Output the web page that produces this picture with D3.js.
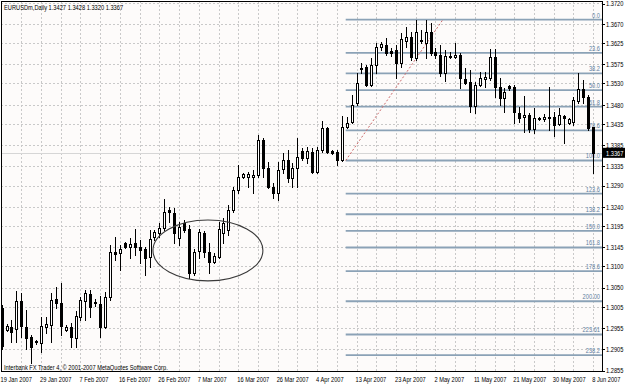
<!DOCTYPE html>
<html><head><meta charset="utf-8">
<script src="https://cdn.jsdelivr.net/npm/d3@7"></script>
<style>html,body{margin:0;padding:0;background:#fff;}svg{display:block;}text{font-family:"Liberation Sans",Arial,sans-serif;}</style>
</head><body><svg id="c" width="625" height="384"></svg>
<script>
const openP = [1.3002,1.2950,1.2957,1.2953,1.3019,1.2957,1.2934,1.2922,1.2920,1.2957,1.2962,1.3023,1.3014,1.2950,1.2957,1.2932,1.2981,1.3019,1.3035,1.3016,1.3012,1.2957,1.3028,1.3134,1.3131,1.3155,1.3146,1.3155,1.3146,1.3141,1.3122,1.3169,1.3178,1.3190,1.3233,1.3226,1.3167,1.3202,1.3188,1.3084,1.3136,1.3178,1.3134,1.3110,1.3122,1.3178,1.3186,1.3233,1.3280,1.3310,1.3310,1.3310,1.3315,1.3397,1.3331,1.3287,1.3273,1.3329,1.3350,1.3308,1.3331,1.3371,1.3355,1.3369,1.3322,1.3374,1.3425,1.3371,1.3369,1.3350,1.3428,1.3440,1.3484,1.3566,1.3569,1.3526,1.3573,1.3616,1.3621,1.3606,1.3609,1.3578,1.3630,1.3639,1.3590,1.3632,1.3625,1.3651,1.3604,1.3597,1.3555,1.3595,1.3592,1.3597,1.3541,1.3534,1.3477,1.3526,1.3541,1.3543,1.3592,1.3522,1.3496,1.3524,1.3522,1.3461,1.3451,1.3456,1.3423,1.3447,1.3447,1.3451,1.3451,1.3435,1.3454,1.3437,1.3440,1.3489,1.3517,1.3498,1.3427];
const highP = [1.3009,1.2965,1.2974,1.3042,1.3037,1.2997,1.2939,1.2927,1.2981,1.2981,1.3037,1.3052,1.3061,1.2962,1.2967,1.2995,1.3028,1.3045,1.3045,1.3023,1.3030,1.3040,1.3150,1.3169,1.3150,1.3157,1.3167,1.3188,1.3162,1.3146,1.3186,1.3186,1.3202,1.3258,1.3240,1.3237,1.3204,1.3209,1.3197,1.3141,1.3188,1.3183,1.3155,1.3131,1.3204,1.3214,1.3244,1.3287,1.3338,1.3320,1.3322,1.3327,1.3409,1.3402,1.3345,1.3296,1.3345,1.3367,1.3374,1.3343,1.3402,1.3378,1.3381,1.3378,1.3381,1.3442,1.3428,1.3374,1.3374,1.3454,1.3451,1.3503,1.3555,1.3578,1.3573,1.3590,1.3625,1.3628,1.3637,1.3613,1.3621,1.3649,1.3663,1.3651,1.3679,1.3656,1.3680,1.3672,1.3613,1.3621,1.3609,1.3604,1.3625,1.3602,1.3566,1.3562,1.3534,1.3557,1.3557,1.3611,1.3611,1.3543,1.3519,1.3527,1.3527,1.3475,1.3501,1.3461,1.3472,1.3451,1.3458,1.3522,1.3463,1.3472,1.3456,1.3449,1.3498,1.3555,1.3538,1.3503,1.3428];
const lowP = [1.2906,1.2948,1.2922,1.2922,1.2934,1.2906,1.2873,1.2918,1.2899,1.2943,1.2922,1.3002,1.2939,1.2948,1.2910,1.2910,1.2974,1.2974,1.2981,1.3007,1.2934,1.2955,1.3021,1.3115,1.3092,1.3143,1.3120,1.3127,1.3108,1.3080,1.3099,1.3162,1.3169,1.3186,1.3204,1.3155,1.3150,1.3181,1.3073,1.3080,1.3120,1.3122,1.3084,1.3108,1.3120,1.3155,1.3174,1.3228,1.3273,1.3308,1.3287,1.3273,1.3310,1.3310,1.3284,1.3261,1.3256,1.3320,1.3298,1.3287,1.3287,1.3350,1.3343,1.3320,1.3320,1.3369,1.3367,1.3364,1.3338,1.3348,1.3425,1.3437,1.3479,1.3555,1.3524,1.3524,1.3555,1.3609,1.3597,1.3595,1.3543,1.3569,1.3616,1.3585,1.3585,1.3625,1.3590,1.3597,1.3590,1.3548,1.3536,1.3590,1.3590,1.3519,1.3529,1.3463,1.3461,1.3524,1.3522,1.3538,1.3498,1.3479,1.3463,1.3515,1.3437,1.3440,1.3416,1.3416,1.3414,1.3444,1.3442,1.3421,1.3407,1.3432,1.3390,1.3435,1.3432,1.3484,1.3484,1.3421,1.3320];
const closeP = [1.2913,1.2960,1.2946,1.3019,1.2960,1.2932,1.2910,1.2925,1.2960,1.2965,1.3021,1.3014,1.2960,1.2957,1.2934,1.2983,1.3021,1.3037,1.3005,1.3014,1.2957,1.3028,1.3134,1.3129,1.3141,1.3146,1.3153,1.3146,1.3138,1.3120,1.3164,1.3181,1.3190,1.3228,1.3228,1.3178,1.3193,1.3186,1.3084,1.3134,1.3181,1.3134,1.3110,1.3124,1.3188,1.3202,1.3233,1.3280,1.3310,1.3317,1.3317,1.3315,1.3397,1.3331,1.3287,1.3273,1.3327,1.3350,1.3308,1.3331,1.3357,1.3355,1.3371,1.3322,1.3374,1.3425,1.3369,1.3367,1.3350,1.3428,1.3437,1.3479,1.3531,1.3564,1.3526,1.3573,1.3616,1.3623,1.3602,1.3602,1.3578,1.3635,1.3639,1.3592,1.3651,1.3630,1.3651,1.3602,1.3597,1.3555,1.3595,1.3592,1.3597,1.3543,1.3531,1.3477,1.3526,1.3543,1.3545,1.3592,1.3522,1.3496,1.3510,1.3519,1.3463,1.3449,1.3456,1.3423,1.3449,1.3449,1.3451,1.3450,1.3432,1.3456,1.3449,1.3447,1.3491,1.3517,1.3498,1.3425,1.3367];
const dateLabels = ["19 Jan 2007","29 Jan 2007","7 Feb 2007","16 Feb 2007","26 Feb 2007","7 Mar 2007","16 Mar 2007","26 Mar 2007","4 Apr 2007","13 Apr 2007","23 Apr 2007","2 May 2007","11 May 2007","21 May 2007","30 May 2007","8 Jun 2007"];
const barsPerDateLabel = 8;
const barsPerGridLine = 4;
const priceLabels = ["1.3720","1.3670","1.3625","1.3575","1.3530","1.3480","1.3435","1.3385","1.3335","1.3290","1.3240","1.3195","1.3145","1.3100","1.3050","1.3005","1.2955","1.2905","1.2855"];
const fibLevels = [0,23.6,38.2,50.0,61.8,78.6,100.0,123.6,138.2,150.0,161.8,178.6,200.0,223.6,238.2];
const fibTexts = ["0.0","23.6","38.2","50.0","61.8","78.6","100.0","123.6","138.2","150.0","161.8","178.6","200.00","223.61","238.2"];
const fibAnchorLow = {bar: 69.8, price: 1.3349};
const fibAnchorHigh = {bar: 89.5, price: 1.3680};
const ellipseBox = {bar0: 30.7, bar1: 53.0, pTop: 1.3209, pBot: 1.3066};
const titleText = "EURUSDm,Daily  1.3427 1.3428 1.3320 1.3367";
const footerText = "Interbank FX Trader 4, \u00a9 2001-2007 MetaQuotes Software Corp.";

const svg = d3.select('#c');
const L = 1, R = 602, T = 1, B = 372;
const x = d3.scaleLinear().domain([0, 120]).range([1.6, 593.2]);
const y = d3.scaleLinear().domain([1.28517, 1.37216]).range([B, 2]);
const SX = 0.76, FS = 7.5;

function txt(g, tx, ty, s, anchor, color) {
  return g.append('text').attr('transform', `translate(${tx},${ty}) scale(${SX},1)`)
    .attr('font-size', FS).attr('text-anchor', anchor || 'start').attr('fill', color || '#000').text(s);
}

svg.append('rect').attr('x',0).attr('y',0).attr('width',625).attr('height',384).attr('fill','#fff');
svg.append('rect').attr('x',L).attr('y',T).attr('width',R-L).attr('height',B-T).attr('fill','#fdfbfa');

const grid = svg.append('g').attr('stroke','#c9c9c9').attr('stroke-dasharray','2,2').attr('stroke-width',1);
priceLabels.forEach(p => {
  const yy = Math.round(y(+p)) + 0.5;
  grid.append('line').attr('x1',L).attr('x2',R).attr('y1',yy).attr('y2',yy);
});
d3.range(barsPerGridLine, openP.length, barsPerGridLine).forEach(i => {
  const xx = Math.round(x(i)) + 0.5;
  grid.append('line').attr('x1',xx).attr('x2',xx).attr('y1',T).attr('y2',B);
});

const lastClose = closeP[closeP.length-1];
svg.append('line').attr('x1',L).attr('x2',R).attr('y1',Math.round(y(lastClose))+0.5).attr('y2',Math.round(y(lastClose))+0.5)
  .attr('stroke','#d6d6d6').attr('stroke-width',1);

const fg = svg.append('g');
const fx0 = x(fibAnchorLow.bar);
const range = fibAnchorHigh.price - fibAnchorLow.price;
fibLevels.forEach((lv, k) => {
  const p = fibAnchorHigh.price - lv/100*range;
  const yy = y(p);
  fg.append('line').attr('x1',fx0).attr('x2',R).attr('y1',yy).attr('y2',yy).attr('stroke','#8ba2b6').attr('stroke-width',1.8);
  txt(fg, 600, yy-2, fibTexts[k], 'end', '#5d80a0');
});
fg.append('line').attr('x1',x(fibAnchorLow.bar)).attr('y1',y(fibAnchorLow.price))
  .attr('x2',x(fibAnchorHigh.bar)).attr('y2',y(fibAnchorHigh.price))
  .attr('stroke','#cc6a6a').attr('stroke-width',1).attr('stroke-dasharray','2,2');

const cg = svg.append('g');
openP.forEach((o, i) => {
  const c = closeP[i], h = highP[i], l = lowP[i];
  const cx = Math.round(x(i));
  cg.append('line').attr('x1',cx+0.5).attr('x2',cx+0.5).attr('y1',Math.round(y(h))).attr('y2',Math.round(y(l))+1)
    .attr('stroke','#000').attr('stroke-width',1);
  const yo = Math.round(y(o)), yc = Math.round(y(c));
  const top = Math.min(yo,yc), bot = Math.max(yo,yc);
  if (bot - top < 1) {
    cg.append('line').attr('x1',cx-1).attr('x2',cx+2).attr('y1',top+0.5).attr('y2',top+0.5).attr('stroke','#000');
  } else {
    cg.append('rect').attr('x',cx-0.5).attr('y',top+0.5).attr('width',2).attr('height',bot-top)
      .attr('fill', c > o ? '#fff' : '#000').attr('stroke','#000').attr('stroke-width',1);
  }
});

const ex0 = x(ellipseBox.bar0), ex1 = x(ellipseBox.bar1), ey0 = y(ellipseBox.pTop), ey1 = y(ellipseBox.pBot);
svg.append('ellipse').attr('cx',(ex0+ex1)/2).attr('cy',(ey0+ey1)/2).attr('rx',(ex1-ex0)/2).attr('ry',(ey1-ey0)/2)
  .attr('fill','none').attr('stroke','#3a3a3a').attr('stroke-width',1.1);

svg.append('rect').attr('x',L+0.5).attr('y',T+0.5).attr('width',R-L).attr('height',B-T-1)
  .attr('fill','none').attr('stroke','#000').attr('stroke-width',1);

const ag = svg.append('g');
priceLabels.forEach(p => {
  const yy = Math.max(y(+p), 3.5);
  ag.append('line').attr('x1',R).attr('x2',R+3).attr('y1',Math.round(yy)+0.5).attr('y2',Math.round(yy)+0.5).attr('stroke','#000');
  txt(ag, 606, yy+2.8, p, 'start', '#000');
});
const yb = y(lastClose);
ag.append('rect').attr('x',R+1).attr('y',yb-5).attr('width',625-R-1).attr('height',10).attr('fill','#000');
txt(ag, 606, yb+2.8, lastClose.toFixed(4), 'start', '#fff');

dateLabels.forEach((d, k) => {
  txt(ag, x(k*barsPerDateLabel) - 1, 382, d, 'start', '#000');
});

txt(svg, 4, 9.5, titleText, 'start', '#000');
txt(svg, 4, 369.5, footerText, 'start', '#000');
</script></body></html>
